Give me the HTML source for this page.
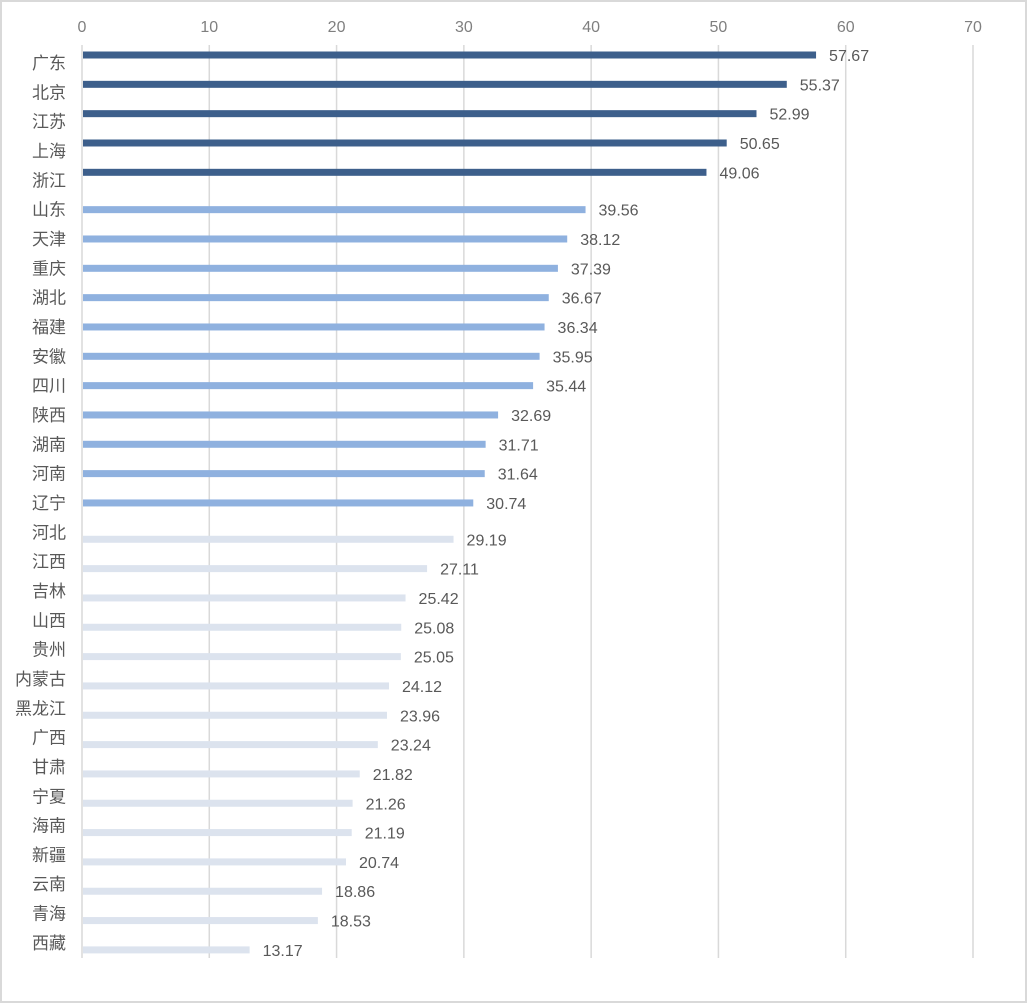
<!DOCTYPE html>
<html><head><meta charset="utf-8"><style>
html,body{margin:0;padding:0;background:#fff}
#wrap{position:relative;width:1027px;height:1003px;box-sizing:border-box;border:2px solid #d9d9d9;background:#fff}
svg text{font-family:"Liberation Sans","Noto Sans CJK SC",sans-serif}
</style></head><body>
<div id="wrap">
<svg id="chart" width="1023" height="999"></svg>
</div>
<script>
const categories=["广东","北京","江苏","上海","浙江","山东","天津","重庆","湖北","福建","安徽","四川","陕西","湖南","河南","辽宁","河北","江西","吉林","山西","贵州","内蒙古","黑龙江","广西","甘肃","宁夏","海南","新疆","云南","青海","西藏"];
const values=[57.67,55.37,52.99,50.65,49.06,39.56,38.12,37.39,36.67,36.34,35.95,35.44,32.69,31.71,31.64,30.74,29.19,27.11,25.42,25.08,25.05,24.12,23.96,23.24,21.82,21.26,21.19,20.74,18.86,18.53,13.17];
const tiers=[0,0,0,0,0,1,1,1,1,1,1,1,1,1,1,1,2,2,2,2,2,2,2,2,2,2,2,2,2,2,2];
const ticks=[0,10,20,30,40,50,60,70];
const NS="http://www.w3.org/2000/svg";
const svg=document.getElementById('chart');
const ox=-2,oy=-2;
const x0=82,x70=973;
const xs=v=>x0+(x70-x0)*v/70+ox;
const rowY=i=>63+i*29.33+oy;
const tierOff=[-8,0,7];
const tierColor=["#3d5f8b","#8fb1df","#dce3ee"];
const tierH=[7,7,7];
function mk(t,a){const e=document.createElementNS(NS,t);for(const k in a)e.setAttribute(k,a[k]);svg.appendChild(e);return e;}
ticks.forEach(t=>{
  const g=mk('line',{x1:xs(t),x2:xs(t),y1:45+oy,y2:958+oy,stroke:'#d9d9d9','stroke-width':1.5});
  
  
  const l=mk('text',{x:xs(t),y:32+oy,'text-anchor':'middle','font-size':16,fill:'#7f7f7f'});
  l.textContent=t;
  
  
});
categories.forEach((c,i)=>{
  const y=rowY(i);
  const l=mk('text',{x:66+ox,y:y+6,'text-anchor':'end','font-size':17,fill:'#595959'});
  l.textContent=c;
  
  
  const by=y+tierOff[tiers[i]];
  const b=mk('rect',{x:xs(0)+1,y:by-tierH[tiers[i]]/2,width:xs(values[i])-xs(0)-1,height:tierH[tiers[i]],fill:tierColor[tiers[i]]});
  
  
  const v=mk('text',{x:xs(values[i])+13,y:by+6,'font-size':16,fill:'#595959'});
  v.textContent=values[i].toFixed(2);
  
  
});
</script>
</body></html>
